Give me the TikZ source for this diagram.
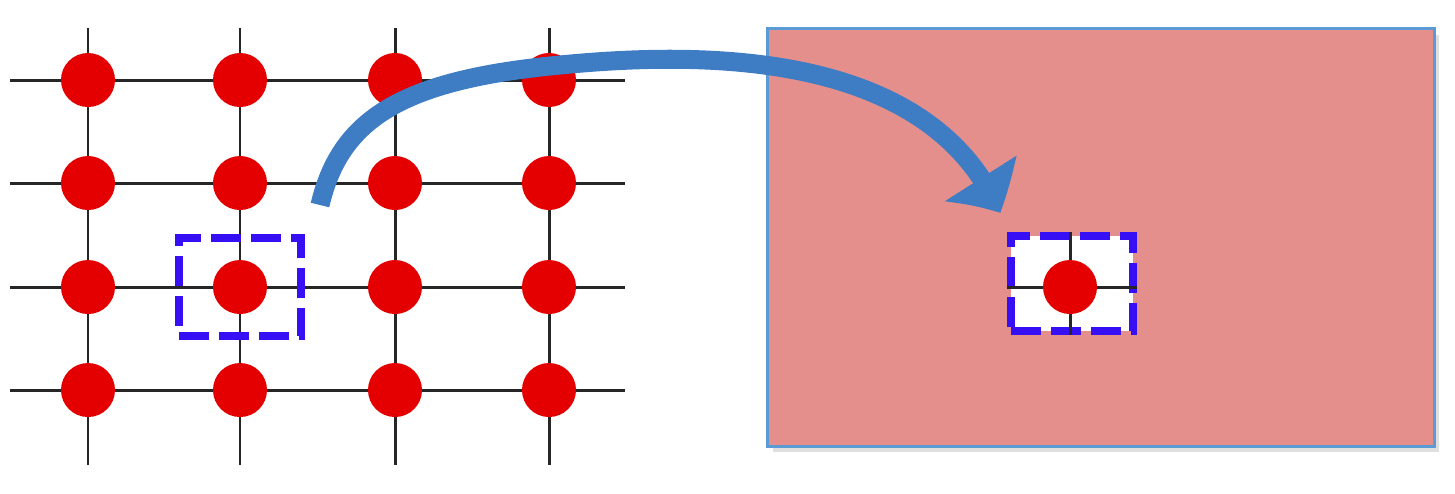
\documentclass[tikz,border=0pt]{standalone}
\usepackage{tikz}
\usetikzlibrary{arrows.meta,bending,positioning,calc,shadows}
\definecolor{dotred}{RGB}{228,0,0}
\definecolor{selblue}{RGB}{55,15,245}
\definecolor{panelpink}{RGB}{228,143,140}
\definecolor{frameblue}{RGB}{91,155,213}
\definecolor{flowblue}{RGB}{62,124,196}

\begin{document}
\begin{tikzpicture}[
    x=0.01cm, y=-0.01cm,
    gridline/.style={line width=0.85pt, black!85},
    atom/.style={circle, fill=dotred, minimum size=0.54cm, inner sep=0pt},
    selbox/.style={draw=selblue, line width=2.3pt, dash pattern=on 0.3cm off 0.1cm, minimum width=1.22cm, minimum height=0.98cm, inner sep=0pt},
    panel/.style={draw=frameblue, line width=0.8pt, fill=panelpink, minimum width=6.66cm, minimum height=4.17cm, drop shadow={opacity=0.25, shadow xshift=0.05cm, shadow yshift=-0.06cm}},
    flow/.style={line width=0.19cm, flowblue, -{Triangle[width=0.82cm, length=0.4cm, bend]}},
]
\useasboundingbox (0,0) rectangle (1455,493);
\foreach \y in {80,183,287,390} \draw[gridline] (10,\y) -- (625,\y);
\foreach \x in {88,240,395,549} \draw[gridline] (\x,28) -- (\x,465);
\foreach \x [count=\c] in {88,240,395,549}
  \foreach \y [count=\r] in {80,183,287,390}
    \node[atom] (d\r\c) at (\x,\y) {};
\node[selbox] (lbox) at (d32) {};

\node[panel] (pane) at (1101,237.5) {};
\node[selbox, fill=white, minimum height=0.95cm] (rbox) at (1072,283.5) {};
\coordinate (rc) at (1070,287);
\draw[gridline] (rbox.west |- rc) -- (rbox.east |- rc);
\draw[gridline] (rc |- rbox.north) -- (rc |- rbox.south);
\node[atom] (rdot) at (rc) {};

\coordinate (tail) at (320,205);
\coordinate (bend) at (560,65);
\coordinate (tip) at (1000,213);
\draw[flow] (tail) .. controls (340,120) and (400,80) .. (bend)
  .. controls (704,51) and (930,50) .. (tip);
\end{tikzpicture}
\end{document}
